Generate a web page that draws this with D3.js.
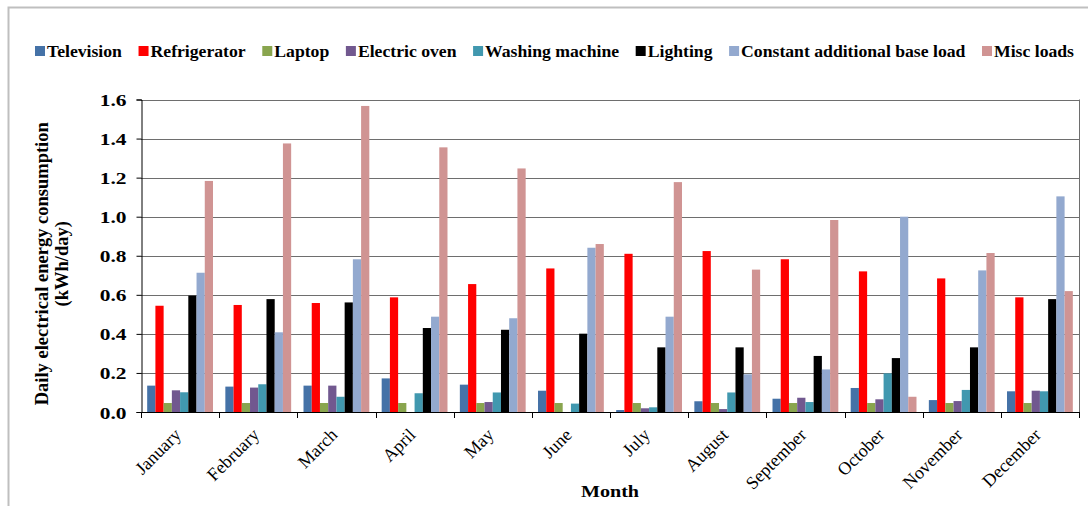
<!DOCTYPE html>
<html><head><meta charset="utf-8">
<script src="https://cdn.jsdelivr.net/npm/d3@7"></script>
<style>
html,body{margin:0;padding:0;background:#fff;}
</style></head>
<body><svg id="c" width="1088" height="506"></svg>
<script>
const months = ["January","February","March","April","May","June","July","August","September","October","November","December"];
const seriesNames = ["Television","Refrigerator","Laptop","Electric oven","Washing machine","Lighting","Constant additional base load","Misc loads"];
const seriesColors = ["#4572A7","#FF0000","#89A54E","#71588F","#4198AF","#000000","#93A9CF","#D09493"];
const television   = [0.135,0.130,0.135,0.172,0.140,0.109,0.010,0.055,0.068,0.123,0.061,0.106];
const refrigerator = [0.544,0.548,0.558,0.587,0.655,0.735,0.810,0.824,0.782,0.720,0.684,0.587];
const laptop       = [0.046,0.046,0.046,0.046,0.046,0.046,0.046,0.046,0.046,0.046,0.046,0.046];
const electricOven = [0.111,0.125,0.135,0.000,0.051,0.000,0.019,0.015,0.073,0.065,0.056,0.109];
const washing      = [0.101,0.142,0.078,0.096,0.100,0.043,0.024,0.100,0.051,0.198,0.113,0.106];
const lighting     = [0.596,0.578,0.561,0.430,0.421,0.401,0.331,0.331,0.287,0.276,0.331,0.578];
const constantBase = [0.713,0.408,0.782,0.488,0.480,0.841,0.488,0.193,0.218,1.000,0.725,1.104];
const miscLoads    = [1.183,1.375,1.567,1.355,1.247,0.860,1.177,0.729,0.983,0.078,0.814,0.619];
const yTicks = [0,0.2,0.4,0.6,0.8,1.0,1.2,1.4,1.6];
const seriesValues = [television,refrigerator,laptop,electricOven,washing,lighting,constantBase,miscLoads];

const FONT = "'Liberation Serif', 'Times New Roman', serif";
const svg = d3.select("#c");
svg.append("rect").attr("x",8.5).attr("y",7.5).attr("width",1090).attr("height",510)
  .attr("fill","none").attr("stroke","#bfbfbf").attr("stroke-width",2);

const L=141, R=1079, T=99.5, B=412;
const x0 = d3.scaleBand().domain(months).range([L,R]).paddingInner(0.158).paddingOuter(0.079);
const x1 = d3.scaleBand().domain(seriesNames).range([0,x0.bandwidth()]);
const y = d3.scaleLinear().domain([0,1.6]).range([B,T]);

svg.append("g").selectAll("line").data(yTicks.filter(v=>v>0)).join("line")
  .attr("x1",L).attr("x2",R).attr("y1",d=>Math.round(y(d))+0.5).attr("y2",d=>Math.round(y(d))+0.5)
  .attr("stroke","#6e6e6e").attr("stroke-width",1);
svg.append("line").attr("x1",R+0.5).attr("x2",R+0.5).attr("y1",T).attr("y2",B).attr("stroke","#6e6e6e");

const groups = svg.append("g").selectAll("g").data(months).join("g")
  .attr("transform",d=>`translate(${x0(d)},0)`);
groups.selectAll("rect").data((m,i)=>seriesNames.map((s,j)=>({s,j,v:seriesValues[j][i]}))).join("rect")
  .attr("x",d=>x1(d.s)).attr("width",x1.bandwidth())
  .attr("y",d=>y(d.v)).attr("height",d=>B-y(d.v))
  .attr("fill",d=>seriesColors[d.j]);

const yAxis = d3.axisLeft(y).tickValues(yTicks).tickFormat(d3.format(".1f")).tickSize(5).tickPadding(0);
const gy = svg.append("g").attr("transform",`translate(${L+0.5},0)`).call(yAxis);
gy.select(".domain").attr("stroke","#000");
gy.selectAll(".tick line").attr("stroke","#000");
gy.selectAll(".tick text").attr("x",null).attr("dy",null)
  .attr("transform",`translate(-15,6) scale(1.3,1)`)
  .attr("font-size",16.5).attr("font-weight","bold").attr("fill","#000").style("font-family",FONT);

const boundaries = d3.range(13).map(i=>L+i*(R-L)/12);
svg.append("line").attr("x1",L).attr("x2",R+1).attr("y1",B+0.5).attr("y2",B+0.5).attr("stroke","#000");
svg.append("g").selectAll("line").data(boundaries).join("line")
  .attr("x1",d=>Math.round(d)+0.5).attr("x2",d=>Math.round(d)+0.5).attr("y1",B).attr("y2",B+6).attr("stroke","#000");
svg.append("g").selectAll("text").data(months).join("text")
  .attr("transform",d=>`translate(${x0(d)+x0.bandwidth()/2+2},${B+24}) rotate(-45)`)
  .attr("text-anchor","end").attr("font-size",18).style("font-family",FONT).attr("fill","#000").text(d=>d);

svg.append("text").attr("transform",`translate(${(L+R)/2},497) scale(1.15,1)`).attr("text-anchor","middle")
  .style("font-family",FONT).attr("font-size",17.5).attr("font-weight","bold").text("Month");
const yt = svg.append("text").attr("transform",`translate(48,${(T+B)/2+8}) rotate(-90)`).style("font-family",FONT)
  .attr("text-anchor","middle").attr("font-size",18.5).attr("font-weight","bold");
yt.append("tspan").attr("x",0).attr("dy",0).text("Daily electrical energy consumption");
yt.append("tspan").attr("x",0).attr("dy",20).text("(kWh/day)");

// legend
const SX = 1.04;
const legendStart = 35, legendEnd = 1074;
const lg = svg.append("g").attr("transform",`translate(${legendStart},51)`);
const items = seriesNames.map((s,i)=>{
  const g = lg.append("g");
  g.append("rect").attr("x",0).attr("y",-5).attr("width",10).attr("height",10).attr("fill",seriesColors[i]);
  const t = g.append("text").attr("transform",`translate(12,6) scale(${SX},1)`).attr("font-size",17)
    .style("font-family",FONT).attr("font-weight","bold").text(s);
  return {g, w: 12 + SX*t.node().getComputedTextLength()};
});
const totalW = d3.sum(items,d=>d.w);
const gap = (legendEnd-legendStart-totalW)/(items.length-1);
let cx = 0;
items.forEach(it=>{ it.g.attr("transform",`translate(${cx},0)`); cx += it.w + gap; });
</script></body></html>
